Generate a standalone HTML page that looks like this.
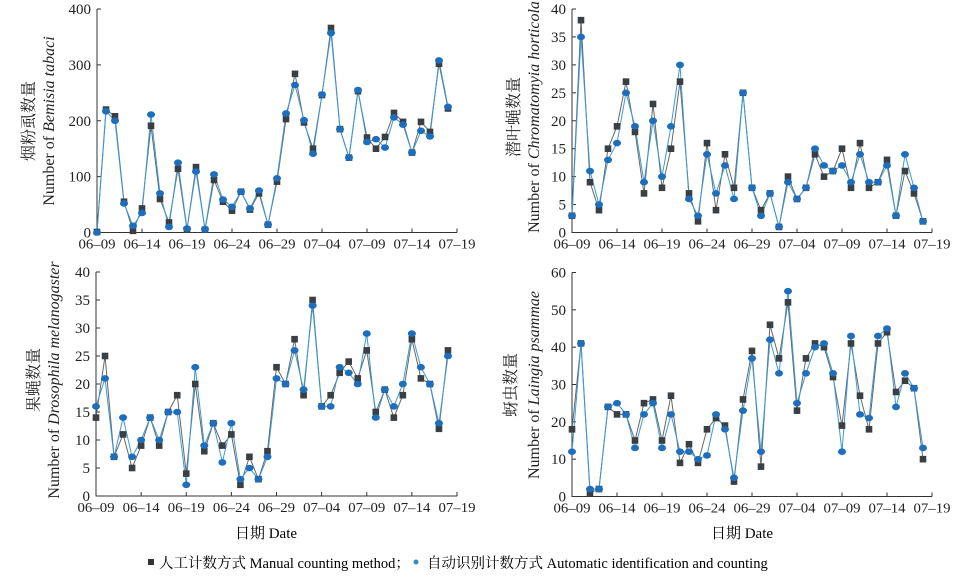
<!DOCTYPE html>
<html><head><meta charset="utf-8">
<style>
html,body{margin:0;padding:0;background:#fff;}
svg{display:block;font-family:"Liberation Serif","Noto Serif CJK SC","Noto Sans CJK SC",serif;}
</style></head>
<body>
<svg id="chart" width="963" height="578" viewBox="0 0 963 578" xmlns="http://www.w3.org/2000/svg">
  <text x="266" y="538" font-size="15" text-anchor="middle">日期 Date</text>
  <text x="742" y="538" font-size="15" text-anchor="middle">日期 Date</text>
  <g>
    <rect x="148" y="559" width="6" height="6" fill="#333"/>
    <text x="159" y="568" font-size="14.5">人工计数方式 Manual counting method；</text>
    <ellipse cx="416" cy="562" rx="2.5" ry="2.5" fill="#2a8fc0"/>
    <text x="427" y="568" font-size="14.5">自动识别计数方式 Automatic identification and counting</text>
  </g>
</svg>
<script>
const xTickLabels = ["06–09","06–14","06–19","06–24","06–29","07–04","07–09","07–14","07–19"];
const dayCount = 40;

const p1Manual = [1,220,208,55,3,43,191,60,18,114,5,117,5,94,55,39,73,41,70,14,91,203,284,197,150,246,366,185,134,253,170,150,171,214,198,143,198,180,302,222];
const p1Auto   = [0,217,200,52,12,35,211,70,10,125,7,109,6,104,59,46,73,43,75,14,97,213,264,201,141,247,357,185,134,255,162,167,152,206,193,143,182,172,308,225];
const p1Ticks  = [0,100,200,300,400];

const p2Manual = [3,38,9,4,15,19,27,18,7,23,8,15,27,7,2,16,4,14,8,25,8,4,7,1,10,6,8,14,10,11,15,8,16,8,9,13,3,11,7,2];
const p2Auto   = [3,35,11,5,13,16,25,19,9,20,10,19,30,6,3,14,7,12,6,25,8,3,7,1,9,6,8,15,12,11,12,9,14,9,9,12,3,14,8,2];
const p2Ticks  = [0,5,10,15,20,25,30,35,40];

const p3Manual = [14,25,7,11,5,9,14,9,15,18,4,20,8,13,9,11,2,7,3,8,23,20,28,18,35,16,18,22,24,21,26,15,19,14,18,28,21,20,12,26];
const p3Auto   = [16,21,7,14,7,10,14,10,15,15,2,23,9,13,6,13,3,5,3,7,21,20,26,19,34,16,16,23,22,20,29,14,19,16,20,29,23,20,13,25];
const p3Ticks  = [0,5,10,15,20,25,30,35,40];

const p4Manual = [18,41,1,2,24,22,22,15,25,26,15,27,9,14,9,18,21,19,4,26,39,8,46,37,52,23,37,41,40,32,19,41,27,18,41,44,28,31,29,10];
const p4Auto   = [12,41,2,2,24,25,22,13,22,25,13,22,12,12,10,11,22,18,5,23,37,12,42,33,55,25,33,40,41,33,12,43,22,21,43,45,24,33,29,13];
const p4Ticks  = [0,10,20,30,40,50,60];

const NS = "http://www.w3.org/2000/svg";
const svg = document.getElementById('chart');
function mk(tag, attrs, parent){ const e=document.createElementNS(NS,tag); for(const k in attrs) e.setAttribute(k,attrs[k]); (parent||svg).appendChild(e); return e; }

function panel(cfg){
  const g = mk('g',{});
  
  
  const x = d => cfg.left + d*(cfg.right-cfg.left)/dayCount;
  const ymax = cfg.ticks[cfg.ticks.length-1];
  const y = v => cfg.bottom - v*(cfg.bottom-cfg.top)/ymax;
  const ax = mk('path',{d:`M${cfg.left},${cfg.top} V${cfg.bottom} H${cfg.right}`,stroke:'#333','stroke-width':1,fill:'none'},g);
  
  
  cfg.ticks.forEach(t=>{
    mk('line',{x1:cfg.left,x2:cfg.left+4,y1:y(t),y2:y(t),stroke:'#333'},g);
    const tl = mk('text',{x:cfg.left-6,y:y(t)+5,'font-size':15,'text-anchor':'end',fill:'#222'},g);
    tl.textContent = t;
    
    
  });
  xTickLabels.forEach((lab,i)=>{
    const xx = x(i*5);
    mk('line',{x1:xx,x2:xx,y1:cfg.bottom,y2:cfg.bottom-4,stroke:'#333'},g);
    const tl = mk('text',{x:xx,y:cfg.bottom+16,'font-size':14,'text-anchor':'middle',fill:'#222',textLength:37,lengthAdjust:'spacingAndGlyphs'},g);
    tl.textContent = lab;
    
    
  });
  const cn = mk('text',{x:0,y:0,'font-size':16,'text-anchor':'middle',fill:'#222',transform:`translate(${cfg.cnX},${cfg.titleY}) rotate(-90)`},g);
  
  
  cn.textContent = cfg.cn;
  const en = mk('text',{x:0,y:0,'font-size':16,'text-anchor':'middle',fill:'#222',transform:`translate(${cfg.enX},${cfg.titleY}) rotate(-90)`},g);
  
  
  en.innerHTML = `Number of <tspan font-style="italic">${cfg.species}</tspan>`;
  const mp = mk('polyline',{points:cfg.manual.map((v,i)=>x(i)+','+y(v)).join(' '),fill:'none',stroke:'#666','stroke-width':1},g);
  
  
  const ap = mk('polyline',{points:cfg.auto.map((v,i)=>x(i)+','+y(v)).join(' '),fill:'none',stroke:'#3b9ad6','stroke-width':1},g);
  
  
  cfg.manual.forEach((v,i)=>{
    const r = mk('rect',{x:x(i)-3.3,y:y(v)-3.3,width:6.6,height:6.6,fill:'#3a3f44'},g);
    
    
  });
  cfg.auto.forEach((v,i)=>{
    const c = mk('ellipse',{cx:x(i),cy:y(v),rx:4,ry:3.3,fill:'#1d6fbd'},g);
    
    
  });
}

panel({name:'panel-bemisia',left:97,right:457,top:9,bottom:232.5,ticks:p1Ticks,manual:p1Manual,auto:p1Auto,cnX:34,enX:54,titleY:121,species:'Bemisia tabaci',cn:'烟粉虱数量'});
panel({name:'panel-chromatomyia',left:572,right:932,top:9,bottom:232.5,ticks:p2Ticks,manual:p2Manual,auto:p2Auto,cnX:519,enX:539,titleY:117,species:'Chromatomyia horticola',cn:'潜叶蝇数量'});
panel({name:'panel-drosophila',left:96,right:457,top:272,bottom:496,ticks:p3Ticks,manual:p3Manual,auto:p3Auto,cnX:39,enX:59,titleY:380,species:'Drosophila melanogaster',cn:'果蝇数量'});
panel({name:'panel-laingia',left:572,right:932,top:272.5,bottom:496.5,ticks:p4Ticks,manual:p4Manual,auto:p4Auto,cnX:516,enX:539,titleY:385,species:'Laingia psammae',cn:'蚜虫数量'});
</script>
</body></html>
